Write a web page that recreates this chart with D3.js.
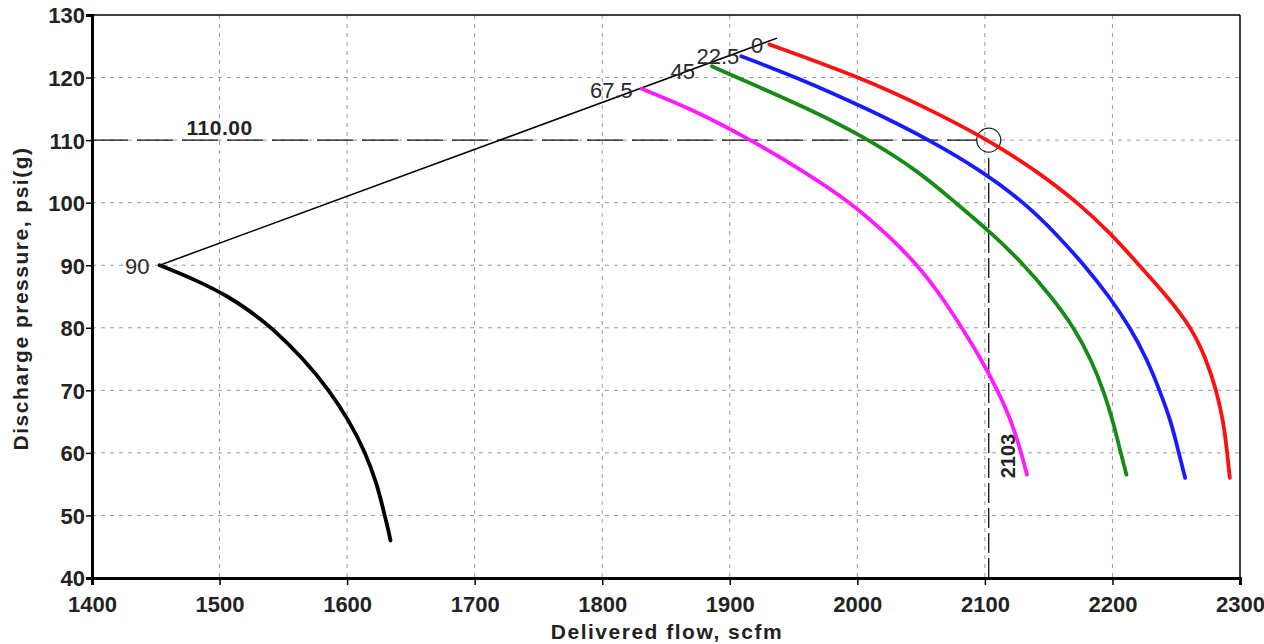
<!DOCTYPE html>
<html>
<head>
<meta charset="utf-8">
<script src="https://cdn.jsdelivr.net/npm/d3@7/dist/d3.min.js"></script>
<style>
  html, body { margin: 0; padding: 0; background: #fff; }
  svg { display: block; font-family: "Liberation Sans", Arial, sans-serif; }
</style>
</head>
<body>
<svg id="chart" width="1264" height="644"></svg>
<script>
// Axis ticks
const flowTicks = [1400, 1500, 1600, 1700, 1800, 1900, 2000, 2100, 2200, 2300];
const pressureTicks = [40, 50, 60, 70, 80, 90, 100, 110, 120, 130];

// Performance curves: [delivered flow (scfm), discharge pressure (psig)]
const curve0 = [[1931,125.3],[2003,120],[2056,115],[2103,110],[2141,105],[2173,100],[2199,95],[2221,90],[2243,85],[2262,80],[2273.5,75],[2281.5,70],[2287,65],[2290,60],[2292,56]];
const curve22 = [[1909,123.4],[1953,120],[2008,115],[2057,110],[2098,105],[2131,100],[2156,95],[2178,90],[2197.5,85],[2214,80],[2227,75],[2237,70],[2246,65],[2252,60],[2257,56]];
const curve45 = [[1886,121.8],[1906,120],[1962,115],[2010,110],[2048,105],[2077,100],[2106,95],[2131,90],[2152,85],[2170,80],[2183,75],[2193,70],[2200.5,65],[2206.5,60],[2211,56.5]];
const curve67 = [[1831,118.2],[1870,115],[1917,110],[1958,105],[1995,100],[2023,95],[2047.5,90],[2066,85],[2082,80],[2097,75],[2110,70],[2121,65],[2128.5,60],[2133,56.5]];
const curve90 = [[1453,90],[1483,87.5],[1507,85],[1525,82.5],[1541,80],[1566,75],[1586,70],[1602,65],[1614.5,60],[1623.5,55],[1629.5,50],[1632.5,47.5],[1634,46]];

// Line joining the curve starting points
const envelope = [[1453,90],[1937,126.3]];

const curveLabels = ["0", "22.5", "45", "67.5", "90"];
const curveColors = ["#ff1010", "#1a1aff", "#168c16", "#ff1aff", "#000000"];
const curves = [curve0, curve22, curve45, curve67, curve90];

// Operating point
const opFlow = 2103;
const opPressure = 110;
const opPressureLabel = "110.00";
const opFlowLabel = "2103";

const xTitle = "Delivered flow, scfm";
const yTitle = "Discharge pressure, psi(g)";

const svg = d3.select("#chart");
const plotLeft = 92, plotRight = 1240, plotTop = 15, plotBottom = 578;

const x = d3.scaleLinear().domain([1400, 2300]).range([plotLeft, plotRight]);
const y = d3.scaleLinear().domain([40, 130]).range([plotBottom, plotTop]);

// Grid
const grid = svg.append("g");
grid.selectAll(".gx").data(flowTicks.slice(1, -1)).join("line")
  .attr("x1", d => x(d)).attr("x2", d => x(d))
  .attr("y1", plotTop).attr("y2", plotBottom)
  .attr("stroke", "#999").attr("stroke-width", 1).attr("stroke-dasharray", "4,5");
grid.selectAll(".gy").data(pressureTicks.slice(1, -1)).join("line")
  .attr("y1", d => y(d)).attr("y2", d => y(d))
  .attr("x1", plotLeft).attr("x2", plotRight)
  .attr("stroke", "#999").attr("stroke-width", 1).attr("stroke-dasharray", "4,5");

// Frame (top and right thin)
svg.append("line").attr("x1", plotLeft).attr("x2", plotRight).attr("y1", plotTop).attr("y2", plotTop)
  .attr("stroke", "#000").attr("stroke-width", 1.5);
svg.append("line").attr("x1", plotRight).attr("x2", plotRight).attr("y1", plotTop).attr("y2", plotBottom)
  .attr("stroke", "#000").attr("stroke-width", 1.5);

// Axes
const xAxis = d3.axisBottom(x).tickValues(flowTicks).tickSize(7).tickPadding(11).tickFormat(d3.format("d"));
const yAxis = d3.axisLeft(y).tickValues(pressureTicks).tickSize(6).tickPadding(1).tickFormat(d3.format("d"));

const gx = svg.append("g").attr("transform", `translate(0,${plotBottom})`).call(xAxis);
const gy = svg.append("g").attr("transform", `translate(${plotLeft},0)`).call(yAxis);
[gx, gy].forEach(g => {
  g.select(".domain").attr("stroke", "#000").attr("stroke-width", 3);
  g.selectAll(".tick line").attr("stroke", "#000").attr("stroke-width", 1.5);
  g.selectAll(".tick text").attr("fill", "#222").attr("font-size", 22).attr("font-weight", "bold")
    .attr("font-family", "'Liberation Sans', Arial, sans-serif");
});
gy.selectAll(".tick text").attr("dy", "0.36em");

// Operating point guides
const cr = 12;
svg.append("line")
  .attr("x1", plotLeft).attr("x2", x(opFlow) - cr)
  .attr("y1", y(opPressure)).attr("y2", y(opPressure))
  .attr("stroke", "#111").attr("stroke-width", 1.3).attr("stroke-dasharray", "36,9");
svg.append("line")
  .attr("x1", x(opFlow)).attr("x2", x(opFlow))
  .attr("y1", y(opPressure) + cr + 6).attr("y2", plotBottom)
  .attr("stroke", "#111").attr("stroke-width", 1.3).attr("stroke-dasharray", "20,5");
svg.append("circle")
  .attr("cx", x(opFlow)).attr("cy", y(opPressure)).attr("r", cr)
  .attr("fill", "none").attr("stroke", "#222").attr("stroke-width", 1.2);

svg.append("text")
  .attr("x", x(1500)).attr("y", y(opPressure) - 5)
  .attr("text-anchor", "middle").attr("font-size", 21).attr("font-weight", "bold").attr("fill", "#222")
  .attr("letter-spacing", "0.5px")
  .text(opPressureLabel);
svg.append("text")
  .attr("transform", `translate(${x(opFlow) + 26},${y(59.5)}) rotate(-90)`)
  .attr("text-anchor", "middle").attr("font-size", 20).attr("font-weight", "bold").attr("fill", "#222")
  .text(opFlowLabel);

// Envelope line
svg.append("path").datum(envelope)
  .attr("d", d3.line().x(d => x(d[0])).y(d => y(d[1])))
  .attr("fill", "none").attr("stroke", "#000").attr("stroke-width", 1.5);

// Curves
const curveLine = d3.line().x(d => x(d[0])).y(d => y(d[1])).curve(d3.curveBasis);
curves.forEach((c, i) => {
  svg.append("path").datum(c)
    .attr("d", curveLine)
    .attr("fill", "none").attr("stroke", curveColors[i]).attr("stroke-width", 3.8)
    .attr("stroke-linecap", "round").attr("stroke-linejoin", "round");
});

// Curve labels next to the starting points
const labelOffsets = [[-6, 9], [-2, 8], [-17, 13], [-9, 9], [-10, 9]];
curves.forEach((c, i) => {
  svg.append("text")
    .attr("x", x(c[0][0]) + labelOffsets[i][0])
    .attr("y", y(c[0][1]) + labelOffsets[i][1])
    .attr("text-anchor", "end").attr("font-size", 22).attr("fill", "#2a2a2a")
    .text(curveLabels[i]);
});

// Axis titles
svg.append("text")
  .attr("x", (plotLeft + plotRight) / 2 + 1).attr("y", 639)
  .attr("text-anchor", "middle").attr("font-size", 21).attr("font-weight", "bold")
  .attr("letter-spacing", "1.5px").attr("fill", "#222")
  .text(xTitle);
svg.append("text")
  .attr("transform", `translate(28,${(plotTop + plotBottom) / 2 + 2}) rotate(-90)`)
  .attr("text-anchor", "middle").attr("font-size", 21).attr("font-weight", "bold")
  .attr("letter-spacing", "1.5px").attr("fill", "#222")
  .text(yTitle);
</script>
</body>
</html>
